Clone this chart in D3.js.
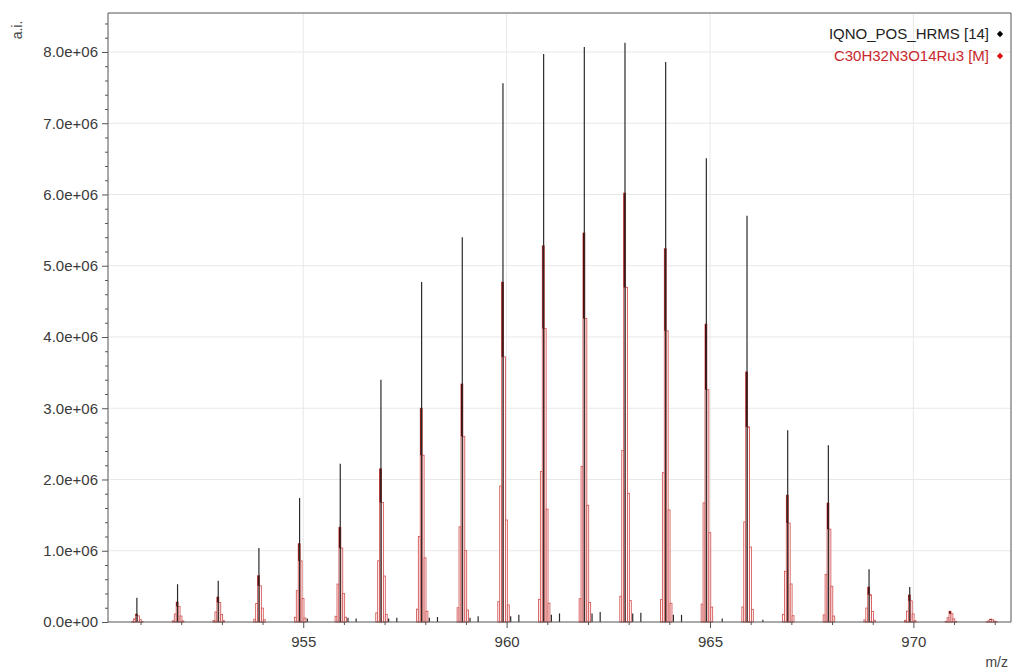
<!DOCTYPE html>
<meta charset="utf-8">
<style>
	body { margin: 0; background: #fff; }
	text { font-family: "Liberation Sans", Arial, sans-serif; }
</style>
<svg width="1014" height="672"></svg>
<script src="https://d3js.org/d3.v7.min.js"></script>
<script>
	// nominal masses of the cluster peaks
	var masses = [951, 952, 953, 954, 955, 956, 957, 958, 959, 960, 961, 962, 963, 964, 965, 966, 967, 968, 969, 970, 971, 972];
	// measured intensities (black sticks), e+06
	var measured = [0.34, 0.53, 0.58, 1.04, 1.74, 2.22, 3.40, 4.77, 5.40, 7.56, 7.97, 8.07, 8.13, 7.86, 6.51, 5.70, 2.69, 2.48, 0.74, 0.49, 0, 0];
	// simulated isotope pattern maxima (red), e+06
	var simulated = [0.11, 0.28, 0.35, 0.65, 1.10, 1.33, 2.15, 3.00, 3.34, 4.77, 5.28, 5.46, 6.02, 5.24, 4.18, 3.51, 1.78, 1.67, 0.49, 0.38, 0.15, 0.04];
	// fine structure of each simulated peak: relative heights of the sub-sticks
	var subRel = [0.06, 0.4, 1.0, 0.78, 0.3, 0.05];
	// small noise sticks [m/z, intensity e+06]
	var noise = [[955.1, 0.05], [956.1, 0.06], [956.3, 0.05], [957.1, 0.05], [957.3, 0.06], [958.1, 0.06], [958.3, 0.07],
		[959.1, 0.06], [959.3, 0.08], [960.1, 0.08], [960.3, 0.1], [961.1, 0.1], [961.3, 0.12], [962.1, 0.12], [962.3, 0.14],
		[963.1, 0.12], [963.3, 0.13], [964.1, 0.1], [964.3, 0.1], [965.3, 0.05], [966.3, 0.03]];
	var yTicks = [0, 1e6, 2e6, 3e6, 4e6, 5e6, 6e6, 7e6, 8e6];
	var yTickLabels = ["0.0e+00", "1.0e+06", "2.0e+06", "3.0e+06", "4.0e+06", "5.0e+06", "6.0e+06", "7.0e+06", "8.0e+06"];
	var xTicks = [955, 960, 965, 970];
	var legend = ["IQNO_POS_HRMS [14]", "C30H32N3O14Ru3 [M]"];

	var svg = d3.select("svg"),
		mLeft = 108, mRight = 1011, mTop = 13, mBottom = 622;

	var x = d3.scaleLinear().domain([950.2, 972.4]).range([mLeft, mRight]);
	var y = d3.scaleLinear().domain([0, 8.547e6]).range([mBottom, mTop]);

	var shift = -0.09, w = 0.047;

	// grid
	svg.append("g").selectAll("line").data(yTicks.slice(1)).enter().append("line")
		.attr("x1", mLeft).attr("x2", mRight).attr("y1", d => y(d)).attr("y2", d => y(d))
		.attr("stroke", "#e8e8e8");
	svg.append("g").selectAll("line").data(xTicks).enter().append("line")
		.attr("y1", mTop).attr("y2", mBottom).attr("x1", d => x(d)).attr("x2", d => x(d))
		.attr("stroke", "#e8e8e8");

	// simulated pattern
	var red = svg.append("g");
	masses.forEach(function(m, i) {
		var h = simulated[i] * 1e6, c = m + shift;
		subRel.forEach(function(r, k) {
			var x0 = c + (k - 2) * w - 0.033;
			red.append("rect")
				.attr("x", x(x0)).attr("width", x(x0 + w) - x(x0))
				.attr("y", y(h * r)).attr("height", mBottom - y(h * r))
				.attr("fill", "#fff").attr("fill-opacity", 0.75)
				.attr("stroke", "#d55a5a").attr("stroke-width", 0.9);
		});
		var x0 = c - 0.033;
		red.append("rect")
			.attr("x", x(x0)).attr("width", x(x0 + w) - x(x0))
			.attr("y", y(h)).attr("height", y(h * subRel[3]) - y(h))
			.attr("fill", "#6b0000");
	});

	// measured sticks
	svg.append("g").selectAll("line").data(masses.map((m, i) => [m + shift, measured[i] * 1e6]).filter(d => d[1] > 0))
		.enter().append("line")
		.attr("x1", d => x(d[0])).attr("x2", d => x(d[0]))
		.attr("y1", mBottom).attr("y2", d => y(d[1]))
		.attr("stroke", "#2a2a2a").attr("stroke-width", 1.2);
	svg.append("g").selectAll("line").data(noise).enter().append("line")
		.attr("x1", d => x(d[0])).attr("x2", d => x(d[0]))
		.attr("y1", mBottom).attr("y2", d => y(d[1] * 1e6))
		.attr("stroke", "#2a2a2a").attr("stroke-width", 1.2);

	// frame
	svg.append("path").attr("fill", "none").attr("stroke", "#555")
		.attr("d", "M" + mLeft + "," + mBottom + "V" + mTop + "H" + mRight + "V" + mBottom + "H" + mLeft);

	// y axis
	var yAxis = d3.axisLeft(y).tickValues(yTicks).tickSize(6).tickPadding(4)
		.tickFormat((d, i) => yTickLabels[i]);
	var ya = svg.append("g").attr("transform", "translate(" + mLeft + ",0)").call(yAxis);
	ya.select(".domain").remove();
	ya.selectAll("line").attr("stroke", "#555");
	ya.selectAll("text").attr("font-size", 15).attr("fill", "#3a3a3a").attr("font-family", "Liberation Sans, Arial, sans-serif");
	svg.append("g").attr("transform", "translate(" + mLeft + ",0)")
		.call(d3.axisLeft(y).tickValues(d3.range(0, 8.5e6, 2e5).filter(v => Math.round(v) % 1e6 !== 0)).tickSize(3).tickFormat(""))
		.call(g => g.select(".domain").remove())
		.selectAll("line").attr("stroke", "#555");

	// x axis
	var xa = svg.append("g").attr("transform", "translate(0," + mBottom + ")")
		.call(d3.axisBottom(x).tickValues(xTicks).tickSize(6).tickPadding(8).tickFormat(d3.format("d")));
	xa.select(".domain").remove();
	xa.selectAll("line").attr("stroke", "#555");
	xa.selectAll("text").attr("font-size", 15).attr("fill", "#3a3a3a").attr("font-family", "Liberation Sans, Arial, sans-serif");
	svg.append("g").attr("transform", "translate(0," + mBottom + ")")
		.call(d3.axisBottom(x).tickValues(d3.range(951, 973).filter(v => v % 5 !== 0)).tickSize(3).tickFormat(""))
		.call(g => g.select(".domain").remove())
		.selectAll("line").attr("stroke", "#555");

	// axis titles
	svg.append("text").attr("transform", "translate(22,30) rotate(-90)").attr("text-anchor", "middle")
		.attr("font-size", 14).attr("fill", "#444").text("a.i.");
	svg.append("text").attr("x", 1008).attr("y", 667).attr("text-anchor", "end")
		.attr("font-size", 14).attr("fill", "#444").text("m/z");

	// legend
	var lg = svg.append("g").selectAll("g").data(legend).enter().append("g")
		.attr("transform", (d, i) => "translate(0," + (39 + i * 22) + ")");
	lg.append("text").attr("x", 989).attr("text-anchor", "end").attr("font-size", 15)
		.attr("fill", (d, i) => i ? "#c8282d" : "#222").text(d => d);
	lg.append("path").attr("d", d3.symbol(d3.symbolDiamond2, 26)).attr("transform", "translate(1000,-5)")
		.attr("fill", (d, i) => i ? "#e01010" : "#000");
</script>
